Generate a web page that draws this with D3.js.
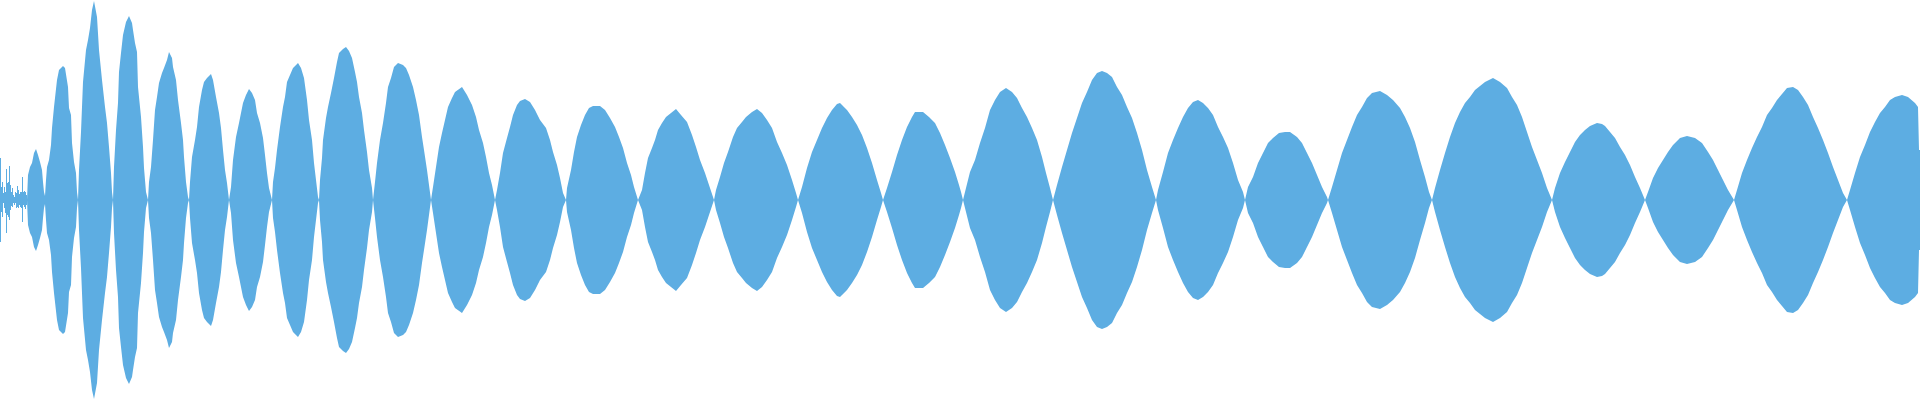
<!DOCTYPE html>
<html>
<head>
<meta charset="utf-8">
<script src="https://cdn.jsdelivr.net/npm/d3@7"></script>
<style>
  html, body { margin: 0; padding: 0; background: #ffffff; }
  svg { display: block; }
</style>
</head>
<body>
<svg id="chart" width="1920" height="400"></svg>
<script>
// Onset noise: per-sample peak above and below the zero line (samples 0..26)
const noiseUp   = [42,13,18,7,13,8,31,17,18,34,15,8,12,5,3,8,7,14,10,6,8,8,23,8,9,8,5];
const noiseDown = [42,12,17,3,8,13,33,15,17,20,10,6,7,3,5,3,8,7,8,5,7,8,22,5,7,9,5];

// Symmetric amplitude envelope: [sample position, peak amplitude]
const envelope = [
  [27,0],[28,25],[30,33],[32,37],[34,47],[36,51],[38,45],[40,38],[42,30],[43,18],[44,8],[45,4],
  [46,20],[47,33],[49,40],[51,55],[52,72],[54,93],[57,120],[59,130],[63,134],[65,132],[68,113],[69,92],[71,85],[72,57],[74,38],[76,27],[77,8],[78,0],
  [79,30],[81,68],[83,118],[86,150],[88,160],[90,172],[92,190],[94,199],[97,183],[99,150],[102,120],[105,93],[107,77],[109,53],[111,27],[112,8],[113,0],
  [114,33],[116,70],[118,97],[119,128],[121,147],[123,165],[126,178],[129,184],[132,177],[133,170],[135,157],[137,148],[138,113],[141,83],[143,53],[144,32],[146,8],[148,0],
  [149,18],[151,33],[153,60],[155,90],[157,103],[159,117],[162,127],[164,132],[167,140],[169,148],[172,142],[173,133],[176,120],[178,100],[181,77],[183,60],[184,43],[186,18],[188,3],[189,0],
  [190,18],[192,43],[195,60],[197,73],[199,93],[202,110],[204,118],[207,122],[211,126],[213,120],[216,103],[219,87],[221,72],[223,50],[225,30],[227,17],[229,0],
  [231,13],[233,40],[236,63],[239,77],[241,87],[243,97],[246,105],[249,111],[252,107],[255,100],[257,87],[260,77],[263,62],[265,45],[267,27],[269,12],[272,0],
  [273,18],[275,32],[277,50],[280,73],[283,93],[285,103],[287,118],[290,125],[293,132],[298,137],[301,132],[304,122],[307,100],[309,80],[312,60],[314,37],[316,20],[318,3],[319,0],
  [320,20],[322,42],[323,60],[326,82],[328,93],[331,107],[334,122],[337,138],[339,147],[343,151],[346,153],[349,149],[352,142],[355,128],[357,118],[359,103],[362,87],[364,70],[367,48],[369,30],[372,12],[373,0],
  [375,18],[377,37],[380,60],[383,77],[386,97],[388,113],[391,122],[394,133],[398,137],[403,135],[406,132],[409,125],[413,113],[416,100],[419,85],[422,63],[424,50],[427,30],[429,15],[431,0],
  [433,13],[436,33],[439,53],[442,67],[445,80],[448,93],[452,102],[455,108],[462,113],[467,105],[472,95],[476,83],[479,70],[483,57],[486,43],[489,27],[492,15],[495,0],
  [497,10],[500,27],[503,47],[507,62],[510,73],[513,85],[517,95],[520,99],[525,101],[530,98],[535,90],[540,80],[546,72],[550,60],[553,48],[557,35],[560,22],[563,7],[566,0],
  [567,12],[571,30],[574,48],[577,63],[581,75],[585,85],[589,92],[593,94],[600,94],[605,90],[610,82],[615,73],[619,63],[623,52],[627,37],[631,25],[634,13],[638,0],
  [642,10],[645,27],[648,42],[652,52],[655,60],[658,70],[662,77],[666,83],[671,87],[676,91],[681,85],[687,78],[692,65],[696,53],[700,40],[705,27],[709,15],[714,0],
  [716,10],[720,23],[724,37],[728,48],[733,63],[737,72],[742,78],[746,83],[752,88],[757,91],[762,87],[767,80],[772,72],[777,58],[782,47],[787,35],[792,20],[796,7],[798,0],
  [802,13],[807,32],[812,48],[817,60],[822,72],[827,82],[832,90],[837,96],[840,97],[842,95],[847,90],[852,83],[857,75],[862,65],[867,52],[872,37],[877,20],[881,7],[883,0],
  [887,12],[892,28],[897,45],[902,60],[907,73],[912,83],[915,88],[923,88],[929,83],[935,77],[940,67],[945,55],[950,42],[955,28],[959,15],[961,8],[963,0],
  [965,8],[970,28],[975,40],[980,57],[985,72],[990,90],[995,100],[1000,108],[1006,112],[1012,108],[1017,102],[1022,92],[1027,83],[1032,72],[1037,60],[1042,43],[1046,27],[1050,12],[1053,0],
  [1057,15],[1062,33],[1067,50],[1072,67],[1077,82],[1082,97],[1087,108],[1092,120],[1097,127],[1102,129],[1107,127],[1112,123],[1117,113],[1122,105],[1127,93],[1132,82],[1137,67],[1142,50],[1147,30],[1152,13],[1156,0],
  [1158,10],[1163,28],[1168,47],[1173,60],[1178,72],[1183,83],[1188,92],[1193,98],[1198,100],[1203,97],[1208,92],[1213,85],[1218,73],[1223,63],[1228,52],[1233,37],[1238,20],[1243,8],[1245,0],
  [1248,13],[1253,23],[1258,37],[1263,47],[1268,57],[1273,62],[1279,67],[1285,68],[1290,68],[1297,63],[1302,57],[1307,47],[1312,37],[1317,25],[1322,13],[1327,3],[1328,0],
  [1332,13],[1337,30],[1342,47],[1347,60],[1352,73],[1357,85],[1362,93],[1367,102],[1372,107],[1380,109],[1387,105],[1393,100],[1400,92],[1405,83],[1410,72],[1415,58],[1420,40],[1425,23],[1429,8],[1432,0],
  [1435,12],[1440,30],[1445,47],[1450,63],[1455,77],[1460,88],[1465,97],[1470,103],[1475,110],[1480,114],[1485,118],[1493,122],[1500,118],[1507,112],[1512,103],[1517,95],[1522,83],[1527,68],[1532,53],[1537,40],[1542,27],[1547,12],[1552,0],
  [1555,12],[1560,27],[1565,38],[1570,48],[1575,58],[1580,65],[1585,70],[1590,74],[1597,77],[1602,76],[1605,74],[1610,68],[1615,62],[1620,53],[1625,45],[1630,35],[1635,23],[1640,12],[1645,0],
  [1648,8],[1653,22],[1658,32],[1663,40],[1668,48],[1673,55],[1680,62],[1687,64],[1695,62],[1702,57],[1708,48],[1713,40],[1718,30],[1723,20],[1728,10],[1734,0],
  [1737,10],[1742,27],[1747,40],[1752,52],[1757,63],[1762,73],[1767,85],[1772,92],[1777,100],[1782,106],[1787,112],[1793,113],[1798,110],[1803,103],[1808,95],[1813,83],[1818,72],[1823,60],[1828,47],[1833,33],[1838,20],[1843,7],[1847,0],
  [1850,10],[1855,27],[1860,43],[1865,55],[1870,68],[1875,78],[1880,87],[1885,93],[1890,100],[1895,103],[1902,105],[1908,103],[1915,97],[1918,93],[1919,50],[1920,50]
];

const width = 1920, height = 400;
const fill = "#5DADE2";

const svg = d3.select("#chart");

const x = d3.scaleLinear().domain([0, 1920]).range([0, width]);
const y = d3.scaleLinear().domain([-200, 200]).range([height, 0]);

// Noise at the onset (asymmetric, per sample)
const noiseData = noiseUp.map((u, i) => ({ i, up: u, down: noiseDown[i] }));
noiseData.push({ i: noiseUp.length, up: 0, down: 0 });

svg.append("path")
  .datum(noiseData)
  .attr("fill", fill)
  .attr("d", d3.area()
    .curve(d3.curveStepAfter)
    .x(d => x(d.i))
    .y0(d => y(-d.down))
    .y1(d => y(d.up)));

// Mirrored envelope
svg.append("path")
  .datum(envelope)
  .attr("fill", fill)
  .attr("d", d3.area()
    .x(d => x(d[0]))
    .y0(d => y(-d[1]))
    .y1(d => y(d[1])));
</script>
</body>
</html>
